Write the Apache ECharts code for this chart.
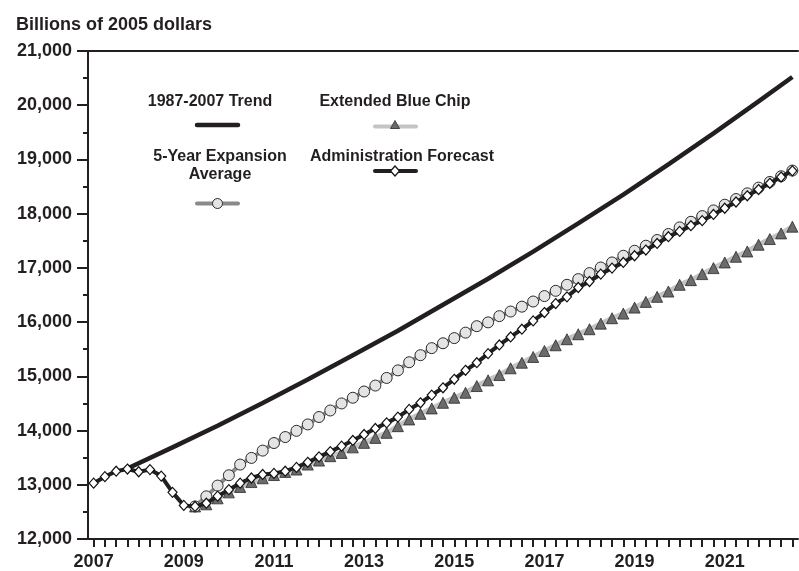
<!DOCTYPE html>
<html>
<head>
<meta charset="utf-8">
<script src="https://cdn.jsdelivr.net/npm/echarts@6/dist/echarts.min.js"></script>
<style>
html,body{margin:0;padding:0;background:#fff;}
#chart{width:799px;height:571px;}
</style>
</head>
<body>
<div id="chart"></div>
<script>
// ---- Data ----
const firstYear = 2007;
const quarterCount = 63; // 2007 Q1 .. 2022 Q3
const quarters = [];
for (let i = 0; i < quarterCount; i++) {
  quarters.push((firstYear + Math.floor(i / 4)) + ' Q' + (i % 4 + 1));
}
const yearLabels = ['2007','2009','2011','2013','2015','2017','2019','2021'];
const yTicks = [12000, 13000, 14000, 15000, 16000, 17000, 18000, 19000, 20000, 21000];

// 1987-2007 Trend (read at Q4 of each year)
const trend = [
  ['2007 Q4',13300],['2008 Q4',13690],['2009 Q4',14090],['2010 Q4',14510],
  ['2011 Q4',14940],['2012 Q4',15390],['2013 Q4',15840],['2014 Q4',16320],
  ['2015 Q4',16800],['2016 Q4',17300],['2017 Q4',17820],['2018 Q4',18350],
  ['2019 Q4',18910],['2020 Q4',19480],['2021 Q4',20070],['2022 Q3',20520]
];

// Administration Forecast (quarterly, 2007 Q1 .. 2022 Q3)
const adminForecast = [
  13030,13150,13250,13290,13240,13280,13160,12860,
  12620,12600,12660,12790,12910,13030,13125,13190,
  13210,13250,13320,13415,13515,13612,13712,13817,
  13928,14039,14142,14248,14390,14512,14654,14789,
  14945,15111,15251,15418,15579,15726,15869,16022,
  16176,16342,16466,16638,16749,16885,16996,17100,
  17224,17329,17451,17575,17673,17778,17871,17985,
  18100,18215,18330,18445,18560,18675,18790
];

// 5-Year Expansion Average
const expansionAvg = [
  null,null,null,null,null,null,null,null,
  null,12600,12787,12985,13176,13373,13495,13630,
  13770,13880,13995,14113,14250,14370,14500,14605,
  14720,14830,14970,15110,15260,15390,15520,15610,
  15705,15806,15925,15995,16110,16195,16285,16380,
  16480,16577,16688,16793,16904,17007,17100,17224,
  17316,17409,17514,17625,17747,17850,17955,18060,
  18165,18270,18375,18480,18585,18690,18795
];

// Extended Blue Chip
const blueChip = [
  null,null,null,null,null,null,null,null,
  null,12600,12640,12750,12860,12960,13050,13120,
  13180,13237,13281,13373,13447,13527,13588,13690,
  13773,13865,13958,14081,14205,14309,14408,14512,
  14605,14697,14821,14926,15024,15148,15251,15357,
  15468,15573,15684,15776,15869,15972,16072,16157,
  16268,16373,16466,16564,16688,16774,16885,16996,
  17100,17205,17303,17427,17532,17636,17760
];

// ---- Chart ----
const FONT = '"Liberation Sans", Arial, sans-serif';
const INK = '#231f20';
const chart = echarts.init(document.getElementById('chart'), null, {renderer: 'canvas'});

function legendText(text, x, y) {
  return {type:'text', x:x, y:y, silent:true, z:100,
    style:{text:text, fill:INK, font:'bold 16px ' + FONT, textAlign:'center', textVerticalAlign:'middle'}};
}
function legendLine(x1, x2, y, color, w) {
  return {type:'line', silent:true, z:100, shape:{x1:x1, y1:y, x2:x2, y2:y},
    style:{stroke:color, lineWidth:w, lineCap:'round'}};
}

const option = {
  backgroundColor: '#fff',
  animation: false,
  title: {
    text: 'Billions of 2005 dollars',
    left: 11, top: 11,
    textStyle: {fontFamily: FONT, fontWeight: 'bold', fontSize: 18, color: INK}
  },
  grid: {left: 88, right: 1, top: 51, bottom: 32, containLabel: false},
  xAxis: [{
    type: 'category',
    data: quarters,
    boundaryGap: true,
    axisLine: {show: true, lineStyle: {color: INK, width: 2}},
    axisTick: {show: true, alignWithLabel: true, interval: 0, length: 8, lineStyle: {color: INK, width: 2}},
    axisLabel: {
      interval: function (idx) { return idx % 8 === 0; },
      formatter: function (v) { const y = v.slice(0, 4); return yearLabels.indexOf(y) >= 0 ? y : ''; },
      margin: 14,
      fontFamily: FONT, fontWeight: 'bold', fontSize: 18, color: INK
    },
    splitLine: {show: false}
  }, {
    type: 'category',
    data: quarters,
    position: 'top',
    boundaryGap: true,
    axisLine: {show: true, lineStyle: {color: INK, width: 2}},
    axisTick: {show: false},
    axisLabel: {show: false},
    splitLine: {show: false}
  }],
  yAxis: {
    type: 'value',
    min: yTicks[0], max: yTicks[yTicks.length - 1], interval: 1000,
    axisLine: {show: true, lineStyle: {color: INK, width: 2}},
    axisTick: {show: true, length: 11, lineStyle: {color: INK, width: 2}},
    minorTick: {show: true, splitNumber: 2, length: 5, lineStyle: {color: INK, width: 2}},
    axisLabel: {
      margin: 16,
      formatter: function (v) { return v.toLocaleString('en-US'); },
      fontFamily: FONT, fontWeight: 'bold', fontSize: 18, color: INK
    },
    splitLine: {show: false}
  },
  series: [
    {
      name: '1987-2007 Trend', type: 'line', data: trend, z: 2,
      showSymbol: false, connectNulls: true,
      lineStyle: {color: INK, width: 4.5}
    },
    {
      name: 'Extended Blue Chip', type: 'line', data: blueChip, z: 3,
      symbol: 'triangle', symbolSize: 11, showAllSymbol: true,
      lineStyle: {color: '#c4c4c4', width: 5},
      itemStyle: {color: '#6b6b6b', borderColor: '#2a2a2a', borderWidth: 0.8}
    },
    {
      name: '5-Year Expansion Average', type: 'line', data: expansionAvg, z: 4,
      symbol: 'circle', symbolSize: 11, showAllSymbol: true,
      lineStyle: {color: '#8a8a8a', width: 4},
      itemStyle: {color: '#e4e4e4', borderColor: '#2a2a2a', borderWidth: 1}
    },
    {
      name: 'Administration Forecast', type: 'line', data: adminForecast, z: 5,
      symbol: 'diamond', symbolSize: [9, 10], showAllSymbol: true,
      lineStyle: {color: INK, width: 4},
      itemStyle: {color: '#ffffff', borderColor: '#111', borderWidth: 1.2}
    }
  ],
  graphic: [
    legendText('1987-2007 Trend', 210, 102),
    legendLine(197, 238, 125, INK, 4.5),

    legendText('Extended Blue Chip', 395, 102),
    legendLine(375, 416, 126.5, '#c4c4c4', 4),
    {type:'polygon', silent:true, z:101, shape:{points:[[395,120.5],[399.5,128.5],[390.5,128.5]]},
      style:{fill:'#6b6b6b', stroke:'#2a2a2a', lineWidth:0.8}},

    legendText('5-Year Expansion', 220, 157),
    legendText('Average', 220, 175),
    legendLine(197, 238, 203.5, '#8a8a8a', 4),
    {type:'circle', silent:true, z:101, shape:{cx:217.5, cy:203.5, r:5},
      style:{fill:'#e4e4e4', stroke:'#2a2a2a', lineWidth:1}},

    legendText('Administration Forecast', 402, 157),
    legendLine(375, 416, 171, INK, 4),
    {type:'polygon', silent:true, z:101, shape:{points:[[395,166],[399.5,171],[395,176],[390.5,171]]},
      style:{fill:'#fff', stroke:'#111', lineWidth:1.2}}
  ]
};
chart.setOption(option);
</script>
</body>
</html>
